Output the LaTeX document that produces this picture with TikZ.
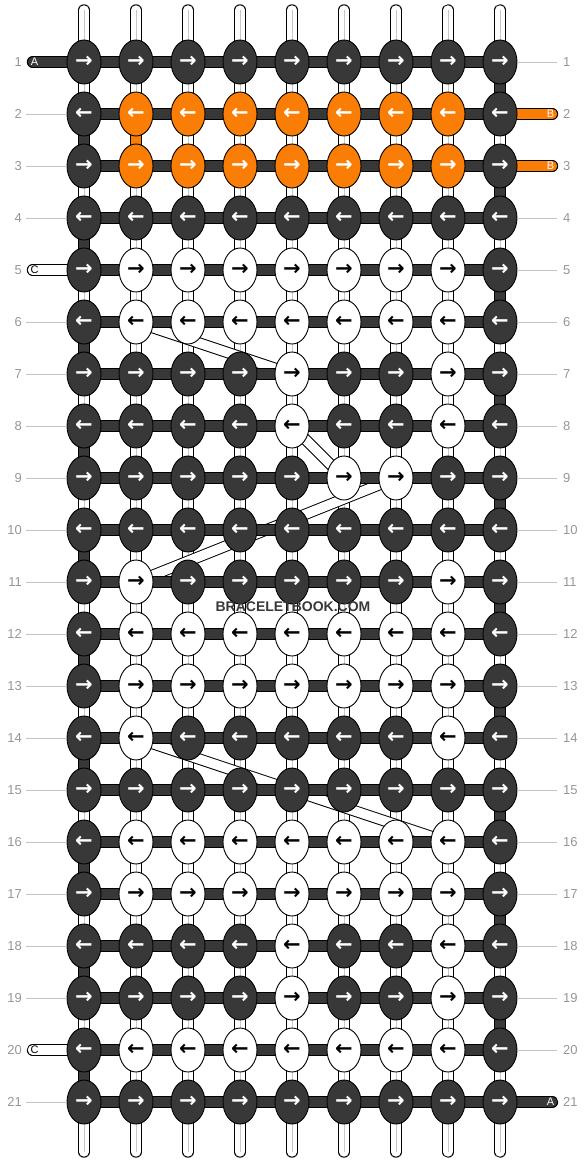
\documentclass[tikz,border=0pt]{standalone}
\usepackage{fontspec}
\setmainfont{Liberation Sans}
\newfontfamily\arrowfont{DejaVu Sans}
\usetikzlibrary{shapes.geometric}

\definecolor{knotdark}{RGB}{56,56,56}
\definecolor{knotorange}{RGB}{250,125,5}
\definecolor{labelgray}{RGB}{150,150,150}
\definecolor{guidegray}{RGB}{195,195,195}

\pgfdeclarelayer{strands}
\pgfdeclarelayer{cross}
\pgfdeclarelayer{bars}
\pgfsetlayers{strands,cross,bars,main}

\tikzset{
	knot/.style={ellipse, draw, line width=0.9pt, minimum width=34pt, minimum height=44pt, inner sep=0pt,
		font=\arrowfont\bfseries\fontsize{21}{21}\selectfont},
	kd/.style={fill=knotdark, text=white},
	ko/.style={fill=knotorange, text=white},
	kw/.style={fill=white, text=black},
	strand/.style={line width=9.4pt, preaction={draw=black, line width=11.4pt}},
	wstrand/.style={strand, draw=white},
	dstrand/.style={strand, draw=knotdark},
	ostrand/.style={strand, draw=knotorange},
	loose/.style={line width=9.4pt, line cap=round, preaction={draw=black, line width=11.4pt, line cap=round}},
	wloose/.style={loose, draw=white},
	dloose/.style={loose, draw=knotdark},
	oloose/.style={loose, draw=knotorange},
	midline/.style={draw=black!22, line width=0.7pt},
	rowlabel/.style={inner sep=0pt, text=labelgray, font=\fontsize{13}{13}\selectfont},
	guide/.style={draw=guidegray, line width=0.9pt},
	endlabel/.style={inner sep=0pt, font=\fontsize{11}{11}\selectfont},
}

\begin{document}
\begin{tikzpicture}[x=1pt, y=-1pt]
	\useasboundingbox (0,0) rectangle (584,1164);
	% Draw the knots, row by row
	\foreach \rw/\cols in {
		1/{d,d,d,d,d,d,d,d,d}, 2/{d,o,o,o,o,o,o,o,d}, 3/{d,o,o,o,o,o,o,o,d},
		4/{d,d,d,d,d,d,d,d,d}, 5/{d,w,w,w,w,w,w,w,d}, 6/{d,w,w,w,w,w,w,w,d},
		7/{d,d,d,d,w,d,d,w,d}, 8/{d,d,d,d,w,d,d,w,d}, 9/{d,d,d,d,d,w,w,d,d},
		10/{d,d,d,d,d,d,d,d,d}, 11/{d,w,d,d,d,d,d,w,d}, 12/{d,w,w,w,w,w,w,w,d},
		13/{d,w,w,w,w,w,w,w,d}, 14/{d,w,d,d,d,d,d,w,d}, 15/{d,d,d,d,d,d,d,d,d},
		16/{d,w,w,w,w,w,w,w,d}, 17/{d,w,w,w,w,w,w,w,d}, 18/{d,d,d,d,w,d,d,w,d},
		19/{d,d,d,d,w,d,d,w,d}, 20/{d,w,w,w,w,w,w,w,d}, 21/{d,d,d,d,d,d,d,d,d}} {
		\foreach \k [count=\cl] in \cols {
			\ifodd\rw \def\arr{→}\else \def\arr{←}\fi
			\node[knot, k\k] (k-\rw-\cl) at ({84+52*(\cl-1)}, {62+52*(\rw-1)}) {\arr};
		}
	}
	% Draw the vertical strands
	\begin{pgfonlayer}{strands}
		\foreach \cl in {1,...,9} {
			\coordinate (top-\cl) at ({84+52*(\cl-1)}, 10);
			\coordinate (bot-\cl) at ({84+52*(\cl-1)}, 1152);
			\draw[wloose] (top-\cl) -- (k-1-\cl.center);
			\draw[midline, line cap=round] (top-\cl) -- (k-1-\cl.center);
			\draw[wloose] (k-21-\cl.center) -- (bot-\cl);
			\draw[midline, line cap=round] (k-21-\cl.center) -- (bot-\cl);
		}
		\foreach \rw [evaluate=\rw as \nx using int(\rw+1)] in {1,...,20} {
			\foreach \cl in {1,...,9} {
				\draw[wstrand] (k-\rw-\cl.center) -- (k-\nx-\cl.center);
				\draw[midline] (k-\rw-\cl.center) -- (k-\nx-\cl.center);
			}
		}
		% the dark thread turning at the edges
		\foreach \rw [evaluate=\rw as \nx using int(\rw+1)] in {1,3,...,19}
			\draw[dstrand] (k-\rw-9.center) -- (k-\nx-9.center);
		\foreach \rw [evaluate=\rw as \nx using int(\rw+1)] in {2,4,...,20}
			\draw[dstrand] (k-\rw-1.center) -- (k-\nx-1.center);
		\draw[ostrand] (k-2-2.center) -- (k-3-2.center);
	\end{pgfonlayer}
	% Draw the crossing strands
	\begin{pgfonlayer}{cross}
		\draw[wstrand] (k-6-2.center) -- (k-7-5.center);
		\draw[wstrand] (k-8-5.center) -- (k-9-6.center);
		\draw[wstrand] (k-9-7.center) -- (k-11-2.center);
		\draw[wstrand] (k-14-2.center) -- (k-16-8.center);
	\end{pgfonlayer}
	% Draw the rows and the loose ends
	\begin{pgfonlayer}{bars}
		\foreach \rw in {1,...,21}
			\draw[dstrand] (k-\rw-1.center) -- (k-\rw-9.center);
		\coordinate (endA1) at (32.5,62);
		\coordinate (endB2) at (552.5,114);
		\coordinate (endB3) at (552.5,166);
		\coordinate (endC5) at (32.5,270);
		\coordinate (endC20) at (32.5,1050);
		\coordinate (endA21) at (552.5,1102);
		\draw[dloose] (endA1) -- (k-1-1.center);
		\draw[oloose] (k-2-9.center) -- (endB2);
		\draw[oloose] (k-3-9.center) -- (endB3);
		\draw[wloose] (endC5) -- (k-5-1.center);
		\draw[wloose] (endC20) -- (k-20-1.center);
		\draw[dloose] (k-21-9.center) -- (endA21);
	\end{pgfonlayer}
	\node[endlabel, text=white] (lA1) at (34.5,62) {A};
	\node[endlabel, text=white] (lB2) at (550.5,114) {B};
	\node[endlabel, text=white] (lB3) at (550.5,166) {B};
	\node[endlabel] (lC5) at (34.5,270) {C};
	\node[endlabel] (lC20) at (34.5,1050) {C};
	\node[endlabel, text=white] (lA21) at (550.5,1102) {A};
	% Add the row numbers
	\foreach \rw in {1,...,21} {
		\node[rowlabel, anchor=east] (ll-\rw) at (22, {62+52*(\rw-1)}) {\rw};
		\node[rowlabel, anchor=west] (rl-\rw) at (563, {62+52*(\rw-1)}) {\rw};
	}
	\foreach \rw in {2,3,4,6,7,8,9,10,11,12,13,14,15,16,17,18,19,21}
		\draw[guide] ([xshift=4pt]ll-\rw.east) -- (k-\rw-1.west);
	\foreach \rw in {1,4,5,6,7,8,9,10,11,12,13,14,15,16,17,18,19,20}
		\draw[guide] (k-\rw-9.east) -- ([xshift=-6pt]rl-\rw.west);
	\node[font=\bfseries\fontsize{14}{14}\selectfont, text=knotdark] (mark) at (293,607) {BRACELETBOOK.COM};
\end{tikzpicture}
\end{document}
